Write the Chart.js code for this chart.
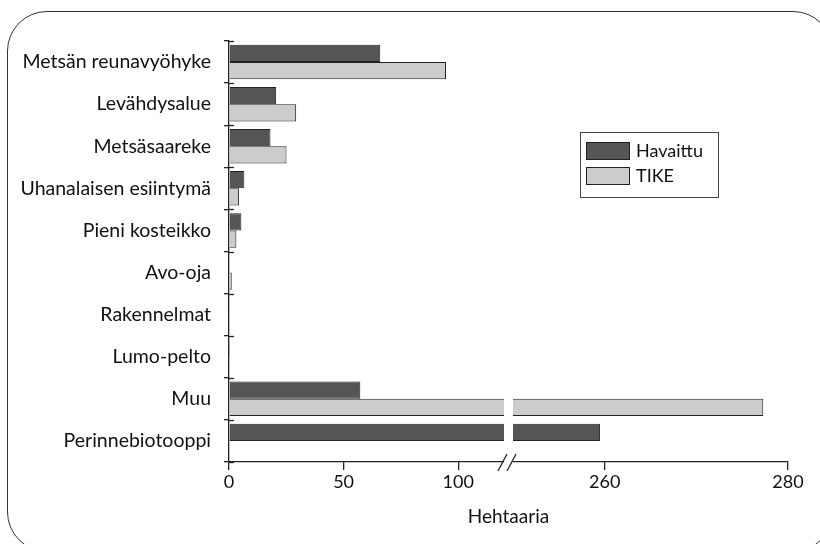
<!DOCTYPE html>
<html>
<head>
<meta charset="utf-8">
<script src="https://cdn.jsdelivr.net/npm/chart.js@4.4.0/dist/chart.umd.min.js"></script>
<style>
  html, body { margin: 0; padding: 0; background: #fff; overflow: hidden; }
  #wrap { position: relative; width: 820px; height: 544px; }
  #frame {
    position: absolute; left: 7px; top: 11px; width: 826px; height: 541px;
    border: 1.3px solid #333; border-radius: 40px; box-sizing: border-box;
  }
  canvas { position: absolute; left: 0; top: 0; }
</style>
</head>
<body>
<div id="wrap">
  <div id="frame"></div>
  <canvas id="habitatChart" width="820" height="544"></canvas>
</div>
<script>
// Data (hectares)
const categories = ['Metsän reunavyöhyke', 'Levähdysalue', 'Metsäsaareke', 'Uhanalaisen esiintymä',
  'Pieni kosteikko', 'Avo-oja', 'Rakennelmat', 'Lumo-pelto', 'Muu', 'Perinnebiotooppi'];
const havaittu = [66.0, 20.6, 18.1, 6.7, 5.4, 0.3, 0.2, 0.1, 57.3, 259.5];
const tike = [94.7, 29.3, 25.1, 4.4, 3.2, 1.2, 0.3, 0.2, 277.3, null];
const xTicks = [0, 50, 100, 260, 280];
const axisBreak = [120, 250];   // values hidden by the axis break

const FONT = 'Lato, "Open Sans", sans-serif';
const GAP = 9;   // pixel width of the break

// Linear scale with a break between axisBreak[0] and axisBreak[1]
class BrokenLinearScale extends Chart.LinearScale {
  getPixelForValue(value) {
    const half = (this.width - GAP) / 2;
    if (value <= axisBreak[0]) {
      return this.left + (value - this.min) / (axisBreak[0] - this.min) * half;
    }
    if (value >= axisBreak[1]) {
      return this.left + half + GAP + (value - axisBreak[1]) / (this.max - axisBreak[1]) * half;
    }
    return this.left + half + GAP / 2;
  }
  getValueForPixel(pixel) {
    const half = (this.width - GAP) / 2;
    const p = pixel - this.left;
    if (p <= half) return this.min + p / half * (axisBreak[0] - this.min);
    return axisBreak[1] + (p - half - GAP) / half * (this.max - axisBreak[1]);
  }
}
BrokenLinearScale.id = 'brokenLinear';
BrokenLinearScale.defaults = { ticks: { callback: v => String(v) } };
Chart.register(BrokenLinearScale);

// White gap through the bars, slashes on the axis, inner y ticks, legend box
const decorations = {
  id: 'decorations',
  afterDatasetsDraw(chart) {
    const ctx = chart.ctx;
    const x = chart.scales.x;
    const area = chart.chartArea;
    const gx = x.getPixelForValue(axisBreak[0]);
    ctx.save();
    ctx.fillStyle = '#fff';
    ctx.fillRect(gx, area.top, GAP, area.bottom - area.top - 1);
    ctx.restore();
  },
  afterDraw(chart) {
    const ctx = chart.ctx;
    const x = chart.scales.x;
    const area = chart.chartArea;
    const gx = x.getPixelForValue(axisBreak[0]);
    ctx.save();
    // axis break marks
    ctx.fillStyle = '#fff';
    ctx.fillRect(gx, area.bottom - 2, GAP, 4);
    ctx.strokeStyle = '#222';
    ctx.lineWidth = 1.3;
    [gx - 4, gx + 5].forEach(sx => {
      ctx.beginPath();
      ctx.moveTo(sx - 2, area.bottom + 9);
      ctx.lineTo(sx + 7, area.bottom - 8);
      ctx.stroke();
    });
    // inner half of the y ticks
    const n = categories.length;
    const step = (area.bottom - area.top) / n;
    ctx.lineWidth = 1.3;
    for (let i = 0; i <= n; i++) {
      const y = Math.round(area.top + i * step) + 0.5;
      ctx.beginPath();
      ctx.moveTo(area.left, y);
      ctx.lineTo(area.left + 5, y);
      ctx.stroke();
    }
    // legend
    ctx.fillStyle = '#fff';
    ctx.lineWidth = 1;
    ctx.strokeStyle = '#444';
    ctx.fillRect(580.5, 132.5, 138, 65);
    ctx.strokeRect(580.5, 132.5, 138, 65);
    ctx.font = '18px ' + FONT;
    ctx.textBaseline = 'middle';
    chart.data.datasets.forEach((ds, i) => {
      const y = 142.5 + i * 25;
      ctx.fillStyle = ds.backgroundColor;
      ctx.fillRect(586.5, y, 43, 17);
      ctx.strokeStyle = '#222';
      ctx.strokeRect(586.5, y, 43, 17);
      ctx.fillStyle = '#111';
      ctx.fillText(ds.label, 636, y + 9);
    });
    ctx.restore();
  }
};

new Chart(document.getElementById('habitatChart'), {
  type: 'bar',
  data: {
    labels: categories,
    datasets: [{
      label: 'Havaittu',
      data: havaittu,
      backgroundColor: '#555555',
      borderColor: '#222',
      borderWidth: 1
    }, {
      label: 'TIKE',
      data: tike,
      backgroundColor: '#cccccc',
      borderColor: '#222',
      borderWidth: 1
    }]
  },
  options: {
    indexAxis: 'y',
    responsive: false,
    animation: false,
    events: [],
    layout: { padding: { left: 0, top: 41, right: 32, bottom: 0 } },
    datasets: { bar: { categoryPercentage: 0.82, barPercentage: 1.0 } },
    plugins: {
      legend: { display: false },
      tooltip: { enabled: false }
    },
    scales: {
      x: {
        type: 'brokenLinear',
        min: 0,
        max: 280,
        afterBuildTicks: s => { s.ticks = xTicks.map(v => ({ value: v })); },
        afterFit: s => { s.height = 82; },
        grid: { drawOnChartArea: false, tickLength: 8, color: '#222', lineWidth: 1.3 },
        border: { color: '#222', width: 1.3 },
        ticks: { color: '#111', font: { family: FONT, size: 18 }, padding: 1, maxRotation: 0 },
        title: {
          display: true, text: 'Hehtaaria', color: '#111',
          font: { family: FONT, size: 19 }, padding: { top: 0, bottom: 16 }
        }
      },
      y: {
        afterFit: s => { s.width = 229; },
        grid: { drawOnChartArea: false, tickLength: 5, color: '#222', lineWidth: 1.3 },
        border: { color: '#222', width: 1.3 },
        ticks: { color: '#111', font: { family: FONT, size: 19.5 }, padding: 13 }
      }
    }
  },
  plugins: [decorations]
});
</script>
</body>
</html>
